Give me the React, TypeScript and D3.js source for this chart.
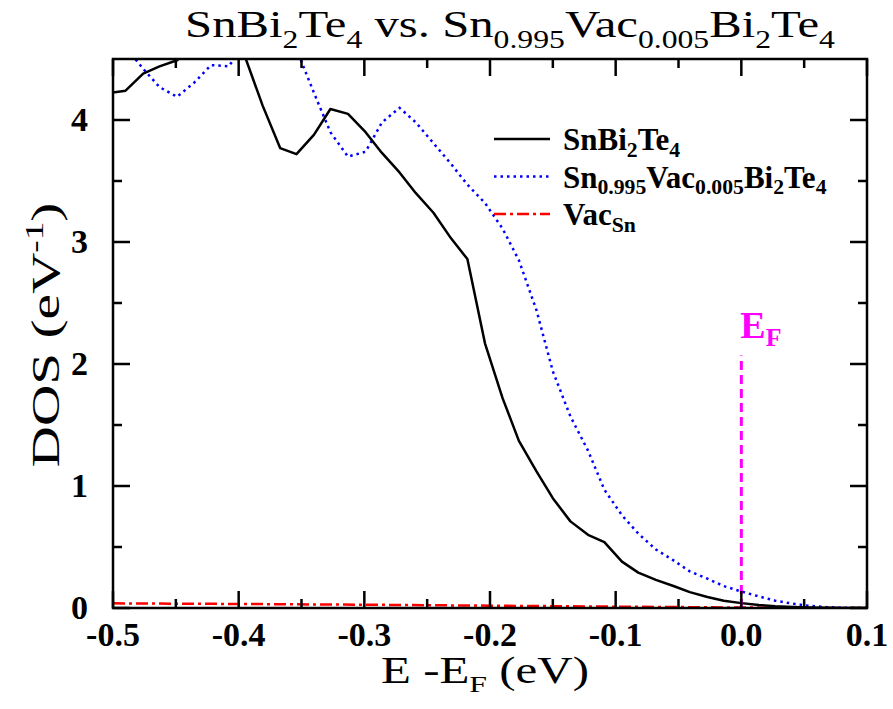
import { useEffect, useRef } from 'react';
import * as d3 from 'd3';

// energy grid (eV, relative to E_F)
const energy = [
  -0.503, -0.490, -0.476, -0.463, -0.449, -0.435, -0.422, -0.408, -0.395, -0.381,
  -0.367, -0.354, -0.340, -0.327, -0.313, -0.299, -0.286, -0.272, -0.259, -0.245,
  -0.231, -0.218, -0.204, -0.190, -0.177, -0.163, -0.150, -0.136, -0.122, -0.109,
  -0.095, -0.082, -0.068, -0.054, -0.041, -0.027, -0.014, 0.000, 0.014, 0.027,
  0.041, 0.054, 0.068, 0.082, 0.095, 0.109,
];

// SnBi2Te4
const dosPristine = [
  4.22, 4.24, 4.38, 4.44, 4.49, 4.62, 4.85, 4.78, 4.52, 4.12,
  3.77, 3.72, 3.88, 4.09, 4.05, 3.90, 3.73, 3.57, 3.40, 3.24,
  3.03, 2.86, 2.17, 1.72, 1.37, 1.12, 0.90, 0.71, 0.60, 0.54,
  0.38, 0.29, 0.23, 0.18, 0.13, 0.09, 0.06, 0.04, 0.025, 0.015,
  0.009, 0.005, 0.002, 0.001, 0, 0,
];

// Sn0.995Vac0.005Bi2Te4
const dosVacancy = [
  4.80, 4.60, 4.42, 4.27, 4.19, 4.31, 4.45, 4.44, 4.62, 4.90,
  4.85, 4.58, 4.22, 3.90, 3.70, 3.74, 3.98, 4.10, 3.98, 3.81,
  3.64, 3.47, 3.32, 3.11, 2.85, 2.44, 1.94, 1.57, 1.29, 0.97,
  0.76, 0.61, 0.48, 0.39, 0.30, 0.24, 0.18, 0.135, 0.095, 0.06,
  0.035, 0.018, 0.007, 0.002, 0, 0,
];

// Vac_Sn
const vacEnergy = [-0.5, -0.4, -0.3, -0.2, -0.1, 0.0, 0.05, 0.1];
const vacDos = [0.038, 0.033, 0.027, 0.019, 0.011, 0.004, 0.001, 0];

const xTicks = [-0.5, -0.4, -0.3, -0.2, -0.1, 0.0, 0.1];
const xMinor = [-0.45, -0.35, -0.25, -0.15, -0.05, 0.05];
const yTicks = [0, 1, 2, 3, 4];
const yMinor = [0.5, 1.5, 2.5, 3.5];
const fermiTop = 2.07;

const W = 893;
const H = 709;
const margin = { top: 59, right: 26, bottom: 101, left: 113 };
const FONT = '"Liberation Serif", "Times New Roman", serif';

type Part = { t: string; sub?: boolean; sup?: boolean };

function rich(text: any, parts: Part[], size: number, scale = 0.65, shift = 0.25) {
  let cur = 0;
  parts.forEach((p) => {
    const want = p.sub ? size * shift : p.sup ? -size * 0.4 : 0;
    text.append('tspan')
      .attr('dy', want - cur)
      .attr('font-size', p.sub || p.sup ? size * scale : size)
      .text(p.t);
    cur = want;
  });
}

// stretch a text group along its baseline to a given length
function fit(g: any, length: number, base: string) {
  const node = g.select('text').node() as SVGTextElement;
  const w = node.getBBox().width;
  g.attr('transform', `${base} scale(${length / w},1)`);
}

export default function App() {
  const ref = useRef<SVGSVGElement>(null);

  useEffect(() => {
    const svg = d3.select(ref.current);
    svg.selectAll('*').remove();

    const x = d3.scaleLinear().domain([-0.5, 0.1]).range([margin.left, W - margin.right]);
    const y = d3.scaleLinear().domain([0, 4.5]).range([H - margin.bottom, margin.top]);
    const [x0, x1] = x.range();
    const [y0, y1] = y.range();

    svg.append('defs').append('clipPath').attr('id', 'plot')
      .append('rect').attr('x', x0).attr('y', y1).attr('width', x1 - x0).attr('height', y0 - y1);

    const line = d3.line<[number, number]>().x((d) => x(d[0])).y((d) => y(d[1]));
    const plot = svg.append('g').attr('clip-path', 'url(#plot)');

    plot.append('path')
      .attr('d', line(vacEnergy.map((e, i) => [e, vacDos[i]])))
      .attr('fill', 'none').attr('stroke', '#ff0000').attr('stroke-width', 2.5)
      .attr('stroke-dasharray', '12 4 3 4');
    plot.append('path')
      .attr('d', line(energy.map((e, i) => [e, dosVacancy[i]])))
      .attr('fill', 'none').attr('stroke', '#0000ff').attr('stroke-width', 2.5)
      .attr('stroke-dasharray', '2.5 4');
    plot.append('path')
      .attr('d', line(energy.map((e, i) => [e, dosPristine[i]])))
      .attr('fill', 'none').attr('stroke', '#000').attr('stroke-width', 2.5)
      .attr('stroke-linejoin', 'round');

    // Fermi level
    svg.append('line')
      .attr('x1', x(0)).attr('x2', x(0)).attr('y1', y(0)).attr('y2', y(fermiTop))
      .attr('stroke', '#ff00ff').attr('stroke-width', 3).attr('stroke-dasharray', '9 5');
    const ef = svg.append('text').attr('x', x(0) - 1).attr('y', 338)
      .attr('font-family', FONT).attr('font-weight', 'bold').attr('fill', '#ff00ff');
    rich(ef, [{ t: 'E' }, { t: 'F', sub: true }], 38, 0.68, 0.22);

    // frame and ticks
    const axes = svg.append('g').attr('stroke', '#000').attr('stroke-width', 2.5);
    axes.append('rect').attr('x', x0).attr('y', y1).attr('width', x1 - x0).attr('height', y0 - y1)
      .attr('fill', 'none');
    const tick = (v: number, len: number) => {
      axes.append('line').attr('x1', x(v)).attr('x2', x(v)).attr('y1', y0).attr('y2', y0 - len);
      axes.append('line').attr('x1', x(v)).attr('x2', x(v)).attr('y1', y1).attr('y2', y1 + len);
    };
    const ytick = (v: number, len: number) => {
      axes.append('line').attr('y1', y(v)).attr('y2', y(v)).attr('x1', x0).attr('x2', x0 + len);
      axes.append('line').attr('y1', y(v)).attr('y2', y(v)).attr('x1', x1).attr('x2', x1 - len);
    };
    xTicks.forEach((v) => tick(v, 17));
    xMinor.forEach((v) => tick(v, 9));
    yTicks.forEach((v) => ytick(v, 17));
    yMinor.forEach((v) => ytick(v, 9));

    const labels = svg.append('g').attr('font-family', FONT).attr('font-weight', 'bold')
      .attr('font-size', 34).attr('fill', '#000');
    labels.selectAll('.xl').data(xTicks).join('text')
      .attr('x', (d) => x(d)).attr('y', 646).attr('text-anchor', 'middle')
      .text((d) => d.toFixed(1));
    labels.selectAll('.yl').data(yTicks).join('text')
      .attr('x', 88).attr('y', (d) => y(d) + 11).attr('text-anchor', 'end')
      .text((d) => String(d));

    // title
    const tg = svg.append('g');
    const tt = tg.append('text').attr('text-anchor', 'middle').attr('font-family', FONT).attr('font-size', 38);
    rich(tt, [
      { t: 'SnBi' }, { t: '2', sub: true }, { t: 'Te' }, { t: '4', sub: true }, { t: ' vs. Sn' },
      { t: '0.995', sub: true }, { t: 'Vac' }, { t: '0.005', sub: true }, { t: 'Bi' }, { t: '2', sub: true },
      { t: 'Te' }, { t: '4', sub: true },
    ], 38, 0.65, 0.3);
    fit(tg, 650, 'translate(510,37)');

    // x title
    const xg = svg.append('g');
    const xt = xg.append('text').attr('text-anchor', 'middle').attr('font-family', FONT).attr('font-size', 37);
    rich(xt, [{ t: 'E -E' }, { t: 'F', sub: true }, { t: ' (eV)' }], 37, 0.65, 0.25);
    fit(xg, 208, 'translate(485,683)');

    // y title
    const yg = svg.append('g');
    const yt = yg.append('text').attr('text-anchor', 'middle').attr('font-family', FONT).attr('font-size', 40);
    rich(yt, [{ t: 'DOS (eV' }, { t: '-1', sup: true }, { t: ')' }], 40, 0.65, 0.25);
    fit(yg, 265, 'translate(59,335) rotate(-90)');

    // legend
    const legend = [
      { parts: [{ t: 'SnBi' }, { t: '2', sub: true }, { t: 'Te' }, { t: '4', sub: true }], color: '#000', dash: null },
      {
        parts: [{ t: 'Sn' }, { t: '0.995', sub: true }, { t: 'Vac' }, { t: '0.005', sub: true }, { t: 'Bi' },
          { t: '2', sub: true }, { t: 'Te' }, { t: '4', sub: true }],
        color: '#0000ff', dash: '2.5 4',
      },
      { parts: [{ t: 'Vac' }, { t: 'Sn', sub: true }], color: '#ff0000', dash: '12 4 3 4' },
    ];
    legend.forEach((l, i) => {
      const ly = 139 + i * 37.5;
      svg.append('line').attr('x1', 494).attr('x2', 550).attr('y1', ly).attr('y2', ly)
        .attr('stroke', l.color).attr('stroke-width', 2.5)
        .attr('stroke-dasharray', l.dash ?? null);
      const t = svg.append('text').attr('x', 563).attr('y', ly + 11)
        .attr('font-family', FONT).attr('font-weight', 'bold');
      rich(t, l.parts, 31, 0.7, 0.22);
    });
  }, []);

  return (
    <svg
      ref={ref}
      width={W}
      height={H}
      viewBox={`0 0 ${W} ${H}`}
      style={{ position: 'absolute', left: 0, top: 0, background: '#fff' }}
    />
  );
}
